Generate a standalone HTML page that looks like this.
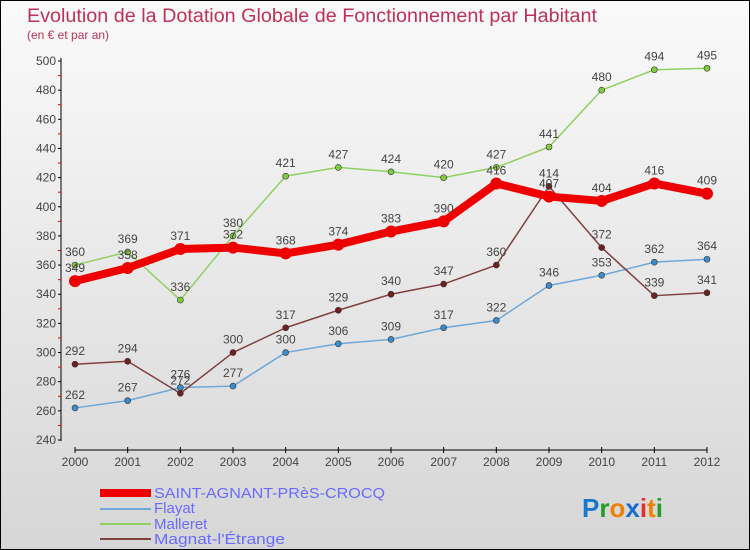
<!DOCTYPE html>
<html><head><meta charset="utf-8"><style>
body{margin:0}
#c{width:750px;height:550px;position:relative;box-sizing:border-box;border:1px solid #000;background:linear-gradient(#fafafa,#d6d6d6);font-family:"Liberation Sans",sans-serif;overflow:hidden}
</style></head><body>
<div id="c">
<svg id="s" width="750" height="550" style="position:absolute;left:-1px;top:-1px">
<text x="27" y="22" font-size="19" fill="#c0305a" textLength="570" lengthAdjust="spacingAndGlyphs">Evolution de la Dotation Globale de Fonctionnement par Habitant</text>
<text x="27" y="39" font-size="12" fill="#c0305a">(en € et par an)</text>
<g id="axes"></g><g id="marks"></g>
<g font-size="15" fill="#6a6aff">
<rect x="100" y="489" width="51" height="8" fill="#e00"/>
<text x="154" y="498" textLength="231" lengthAdjust="spacingAndGlyphs">SAINT-AGNANT-PRèS-CROCQ</text>
<rect x="100" y="508" width="51" height="2" fill="#6fa8d8"/>
<text x="154" y="513">Flayat</text>
<rect x="100" y="523" width="51" height="2" fill="#90d060"/>
<text x="154" y="529">Malleret</text>
<rect x="100" y="538" width="51" height="2" fill="#804040"/>
<text x="154" y="544" textLength="131" lengthAdjust="spacingAndGlyphs">Magnat-l'Étrange</text>
</g>
<text x="582" y="517" font-size="26" font-weight="bold"><tspan fill="#1a78c8">P</tspan><tspan fill="#2a9a2a">r</tspan><tspan fill="#f08000">o</tspan><tspan fill="#1a6ad0">x</tspan><tspan fill="#e03030">i</tspan><tspan fill="#f08000">t</tspan><tspan fill="#2a9a2a">i</tspan></text>
</svg>
</div>
<script>
const years=[2000,2001,2002,2003,2004,2005,2006,2007,2008,2009,2010,2011,2012];
const yTicks=[240,260,280,300,320,340,360,380,400,420,440,460,480,500];
const saint=[349,358,371,372,368,374,383,390,416,407,404,416,409];
const flayat=[262,267,276,277,300,306,309,317,322,346,353,362,364];
const malleret=[360,369,336,380,421,427,424,420,427,441,480,494,495];
const magnat=[292,294,272,300,317,329,340,347,360,414,372,339,341];
const NS="http://www.w3.org/2000/svg";
const X=i=>75+i*(707-75)/12;
const Y=v=>440-(v-240)*(440-61)/260;
function mk(t,a,p){const e=document.createElementNS(NS,t);for(const k in a)e.setAttribute(k,a[k]);p.appendChild(e);return e;}
const ax=document.getElementById('axes'),mg=document.getElementById('marks');
const yl=mk('line',{x1:61,y1:58,x2:61,y2:441,stroke:'#000','stroke-width':1},ax);


yTicks.forEach((v,k)=>{
 mk('line',{x1:58,x2:61,y1:Y(v),y2:Y(v),stroke:'#000'},ax);
 if(k<yTicks.length-1)mk('line',{x1:58,x2:61,y1:Y(v+10),y2:Y(v+10),stroke:'#e00'},ax);
 const t=mk('text',{x:56,y:Y(v)+4,'font-size':12,fill:'#444','text-anchor':'end'},ax);t.textContent=v;
 
 
});
const xl=mk('line',{x1:75,y1:450,x2:707,y2:450,stroke:'#000'},ax);


years.forEach((y,i)=>{
 mk('line',{x1:X(i),x2:X(i),y1:447,y2:453,stroke:'#000'},ax);
 const t=mk('text',{x:X(i),y:466,'font-size':12,fill:'#444','text-anchor':'middle'},ax);t.textContent=y;
 
 
});
function series(d,name,col,w,r,dot){
 const g=mk('g',{},mg);
 
 
 mk('polyline',{points:d.map((v,i)=>X(i)+','+Y(v)).join(' '),fill:'none',stroke:col,'stroke-width':w,'stroke-linejoin':'round'},g);
 d.forEach((v,i)=>{
  const c=mk('circle',{cx:X(i),cy:Y(v),r:r,fill:dot,stroke:'#333','stroke-width':r>4?0:0.6},g);
  
  
  const t=mk('text',{x:X(i),y:Y(v)-9,'font-size':12,fill:'#444','text-anchor':'middle'},g);t.textContent=v;
  
  
 });
}
series(flayat,'flayat','#6fa8d8',1.5,3,'#3a8ccc');
series(malleret,'malleret','#90d060',1.5,3,'#80cc40');
series(magnat,'magnat','#804040',1.5,3,'#702020');
series(saint,'saint-agnant','#e00',8,6,'#e00');
</script>
</body></html>
